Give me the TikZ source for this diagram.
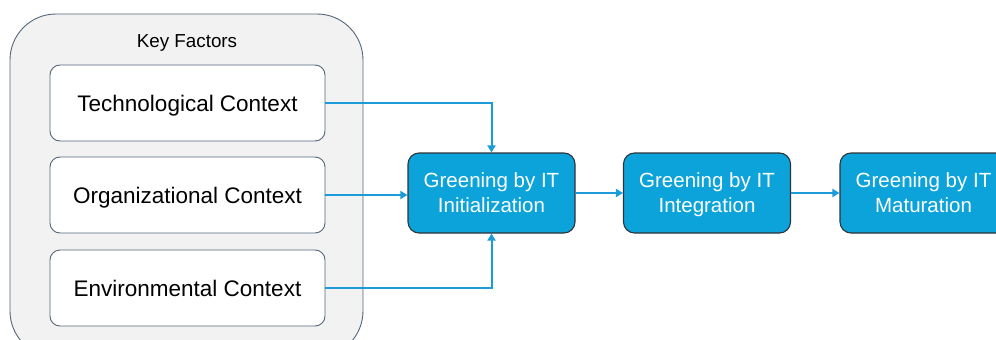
\documentclass[tikz,border=0pt]{standalone}
\usepackage{fontspec}
\setmainfont{Liberation Sans}
\usetikzlibrary{arrows.meta}
\definecolor{panelfill}{HTML}{F2F2F2}
\definecolor{panelline}{HTML}{56667A}
\definecolor{stagefill}{HTML}{0BA3D9}
\definecolor{stageline}{HTML}{2E3438}
\definecolor{flow}{HTML}{1B9BD7}
\begin{document}
\begin{tikzpicture}[x=1pt,y=-1pt,
  factor/.style={draw=panelline,line width=0.9pt,fill=white,rounded corners=10pt,
    minimum width=275pt,minimum height=76pt,inner sep=0pt,text depth=0pt,
    font=\fontsize{22.5}{27}\selectfont},
  stage/.style={draw=stageline,line width=1.1pt,fill=stagefill,rounded corners=11pt,
    minimum width=167pt,minimum height=80pt,inner sep=0pt,text=white,align=center,
    text depth=-4pt,font=\fontsize{20.5}{25}\selectfont},
  link/.style={draw=flow,line width=2pt,-{Triangle[length=7pt,width=8pt]}}]
\useasboundingbox (0,0) rectangle (996,340);
% key factors panel
\draw[draw=panelline,line width=0.9pt,fill=panelfill,rounded corners=46pt]
  (10,14) rectangle (363,357);
\node[font=\fontsize{18.8}{22}\selectfont,text depth=0pt] (title) at (187,41) {Key Factors};
\node[factor] (tech) at (187.5,103) {Technological Context};
\node[factor] (org) at (187.5,195) {Organizational Context};
\node[factor] (env) at (187.5,288) {Environmental Context};
% stages
\node[stage] (init) at (491.5,193) {Greening by IT\\Initialization};
\node[stage] (integ) at (707,193) {Greening by IT\\Integration};
\node[stage] (mat) at (923.5,193) {Greening by IT\\Maturation};
% connectors
\draw[link] (tech.east) -| (init.north);
\draw[link] (org.east) -- (org.east -| init.west);
\draw[link] (env.east) -| (init.south);
\draw[link] (init.east) -- (integ.west);
\draw[link] (integ.east) -- (mat.west);
\end{tikzpicture}
\end{document}
